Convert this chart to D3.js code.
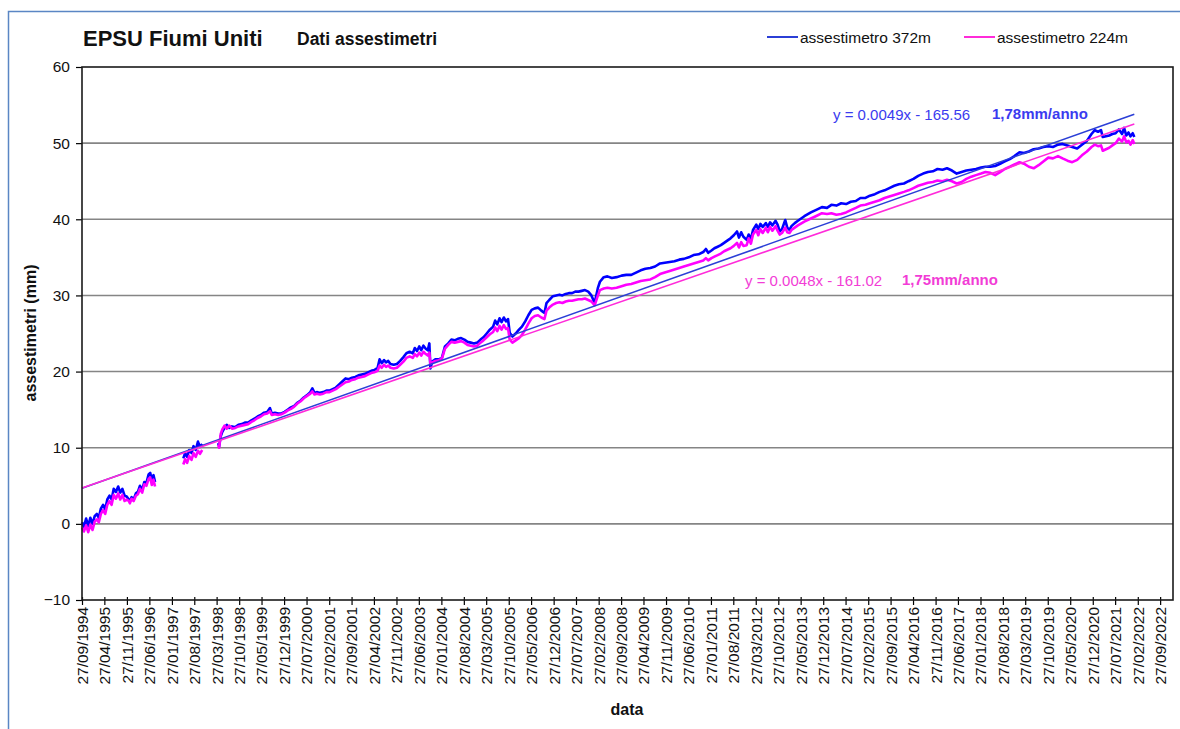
<!DOCTYPE html>
<html>
<head>
<meta charset="utf-8">
<script src="https://cdn.jsdelivr.net/npm/d3@7"></script>
<style>
  body { margin: 0; background: #fff; }
  svg { display: block; font-family: Arial, "Liberation Sans", sans-serif; }
</style>
</head>
<body>
<svg id="chart" width="1180" height="729"></svg>
<script>
// Sampling dates shared by both settlement gauges (null values = no readings)
const dates = [
  "1994-09-27","1994-10-15","1994-11-05","1994-11-25","1994-12-15",
  "1995-01-05","1995-01-25","1995-02-15","1995-03-05","1995-03-25","1995-04-15","1995-05-05","1995-05-25","1995-06-15","1995-07-05","1995-07-25","1995-08-15","1995-09-05","1995-09-25","1995-10-15","1995-11-05","1995-11-25","1995-12-15","1995-12-25",
  "1996-01-10","1996-01-30","1996-02-20","1996-03-10","1996-03-30","1996-04-20","1996-05-10","1996-05-30","1996-06-20","1996-07-05","1996-07-20","1996-08-05","1996-08-20","1997-01-01",
  "1997-05-15","1997-06-01","1997-06-20","1997-07-10","1997-08-01","1997-08-20","1997-09-10","1997-10-01","1997-10-20","1997-11-10","1998-01-01",
  "1998-04-10","1998-04-20","1998-05-05","1998-05-20","1998-06-10","1998-07-01","1998-07-25","1998-08-20","1998-09-20","1998-10-20","1998-11-20","1998-12-20",
  "1999-01-20","1999-02-20","1999-03-20","1999-04-20","1999-05-20","1999-06-20","1999-07-20","1999-08-15","1999-09-01","1999-10-01","1999-11-01","1999-12-01",
  "2000-01-01","2000-02-01","2000-03-01","2000-04-01","2000-05-01","2000-06-01","2000-07-01","2000-08-01","2000-09-01","2000-09-20","2000-10-10","2000-11-01","2000-12-01",
  "2001-01-01","2001-02-01","2001-03-01","2001-04-01","2001-05-01","2001-06-01","2001-07-01","2001-08-01","2001-09-01","2001-10-01","2001-11-01","2001-12-01",
  "2002-01-01","2002-02-01","2002-03-01","2002-04-01","2002-05-01","2002-06-01","2002-06-20","2002-07-10","2002-08-01","2002-08-20","2002-09-10","2002-10-01","2002-11-01","2002-12-01",
  "2003-01-01","2003-02-01","2003-03-01","2003-04-01","2003-05-01","2003-05-20","2003-06-10","2003-07-01","2003-07-20","2003-08-10","2003-09-01","2003-09-20","2003-10-05","2003-10-15","2003-11-01","2003-12-01",
  "2004-01-01","2004-02-01","2004-03-01","2004-04-01","2004-05-01","2004-06-01","2004-07-01","2004-08-01","2004-09-01","2004-10-01","2004-11-01","2004-12-01",
  "2005-01-01","2005-02-01","2005-03-01","2005-04-01","2005-05-01","2005-06-01","2005-06-20","2005-07-10","2005-08-01","2005-08-20","2005-09-10","2005-10-01","2005-10-20","2005-11-05","2005-12-01",
  "2006-01-01","2006-02-01","2006-03-01","2006-04-01","2006-05-01","2006-06-01","2006-07-01","2006-08-01","2006-09-01","2006-10-01","2006-10-20","2006-11-15","2006-12-20",
  "2007-01-20","2007-02-20","2007-03-20","2007-04-20","2007-05-20","2007-06-20","2007-07-20","2007-08-20","2007-09-20","2007-10-20","2007-11-20","2007-12-20",
  "2008-01-20","2008-02-20","2008-03-10","2008-04-15","2008-05-20","2008-07-01","2008-08-15","2008-10-01","2008-11-15",
  "2009-01-01","2009-02-15","2009-04-01","2009-05-15","2009-07-01","2009-08-15","2009-10-01","2009-11-15",
  "2010-01-01","2010-02-15","2010-04-01","2010-05-15","2010-07-01","2010-08-15","2010-10-01","2010-11-15","2010-12-10",
  "2011-01-01","2011-02-01","2011-03-01","2011-04-01","2011-05-01","2011-06-01","2011-07-01","2011-08-01","2011-09-01","2011-10-01","2011-10-20","2011-11-10","2011-12-01",
  "2012-01-01","2012-01-20","2012-02-10","2012-03-01","2012-04-01","2012-04-20","2012-05-10","2012-06-01","2012-07-01","2012-07-20","2012-08-10","2012-09-01","2012-10-01","2012-10-20","2012-11-10","2012-12-01",
  "2013-01-01","2013-01-20","2013-02-10","2013-03-01","2013-04-01","2013-05-01","2013-07-01","2013-09-01","2013-11-01","2013-12-15",
  "2014-02-01","2014-03-15","2014-05-01","2014-06-15","2014-08-01","2014-09-15","2014-11-01","2014-12-15",
  "2015-02-01","2015-03-15","2015-05-01","2015-06-15","2015-08-01","2015-09-15","2015-11-01","2015-12-15",
  "2016-02-01","2016-03-15","2016-05-01","2016-06-15","2016-08-01","2016-09-15","2016-11-01","2016-12-15",
  "2017-02-01","2017-03-15","2017-05-01","2017-06-15","2017-08-01","2017-09-15","2017-11-01","2017-12-15",
  "2018-02-01","2018-03-15","2018-05-01","2018-06-15","2018-08-01","2018-09-15","2018-11-01","2018-12-15",
  "2019-02-01","2019-03-15","2019-05-01","2019-06-15","2019-08-01","2019-09-15","2019-11-01","2019-12-15",
  "2020-02-01","2020-03-15","2020-05-01","2020-06-15","2020-08-01","2020-09-15","2020-11-01","2020-12-15",
  "2021-01-15","2021-02-15","2021-03-15","2021-04-01","2021-05-01","2021-06-01","2021-07-01","2021-08-01","2021-09-01","2021-10-01","2021-10-20","2021-11-10","2021-12-01","2021-12-20","2022-01-10","2022-01-25"
];

// Settlement (mm) – gauge anchored at 372 m
const assestimetro372 = [
  0.2,-0.4,0.7,-0.3,0.8,
  0.0,1.0,1.3,0.8,2.0,2.5,1.9,3.2,3.7,3.2,4.6,4.2,4.9,4.1,4.6,3.7,3.6,3.2,3.0,
  3.5,3.2,4.0,4.2,5.0,4.5,5.5,5.4,6.5,6.7,5.8,6.4,5.5,null,
  8.6,9.3,8.8,9.7,9.3,10.2,9.7,10.8,10.1,10.5,null,
  10.6,10.2,11.5,12.1,12.6,13.0,12.6,12.8,12.7,13.0,13.1,13.3,
  13.3,13.6,13.8,14.1,14.3,14.6,14.7,15.2,14.5,14.6,14.5,14.5,
  14.7,15.0,15.3,15.5,15.9,16.2,16.6,16.9,17.3,17.8,17.2,17.3,17.2,
  17.3,17.5,17.5,17.7,17.9,18.3,18.7,19.1,19.0,19.2,19.3,19.5,
  19.6,19.7,19.9,20.1,20.2,20.5,21.6,21.1,21.5,21.2,21.4,21.0,20.9,21.0,
  21.4,21.9,22.4,22.6,22.4,23.1,22.7,23.3,22.8,23.4,23.0,22.8,23.7,20.4,21.3,21.6,
  21.6,21.8,23.3,23.7,24.2,24.1,24.3,24.4,24.2,23.9,23.8,23.7,
  23.8,24.2,24.5,25.0,25.5,25.9,26.7,26.2,27.0,26.5,27.1,26.6,26.9,25.1,24.6,
  25.0,25.5,25.9,26.6,27.4,28.1,28.3,28.4,28.0,27.7,29.0,29.4,29.9,
  30.0,30.1,30.0,30.2,30.3,30.3,30.5,30.5,30.6,30.7,30.5,30.0,
  29.0,31.0,31.8,32.4,32.5,32.3,32.4,32.6,32.7,
  32.7,33.0,33.3,33.5,33.6,33.8,34.2,34.3,
  34.4,34.5,34.7,34.8,35.0,35.3,35.4,35.7,36.1,
  35.6,35.9,36.2,36.4,36.6,36.9,37.2,37.5,37.9,38.4,37.6,38.3,37.7,
  37.3,38.0,37.4,38.6,39.3,38.7,39.4,39.0,39.5,39.0,39.6,39.2,39.8,39.3,38.4,38.7,
  39.9,38.9,38.6,39.1,39.5,39.8,40.4,40.9,41.3,41.6,
  41.5,41.9,41.8,42.1,42.0,42.3,42.4,42.8,
  42.8,43.1,43.3,43.6,43.8,44.1,44.4,44.6,
  44.7,45.0,45.3,45.7,46.0,46.2,46.3,46.6,
  46.5,46.7,46.4,46.0,46.2,46.4,46.5,46.6,
  46.8,46.9,46.9,47.0,47.3,47.6,47.9,48.3,
  48.8,48.7,48.9,49.2,49.3,49.5,49.6,49.5,
  49.8,49.9,49.7,49.5,49.3,49.8,50.3,51.2,
  51.7,51.5,51.7,50.8,50.9,51.0,51.2,51.3,51.8,51.2,52.0,51.0,51.4,50.9,51.3,50.8
];

// Settlement (mm) – gauge anchored at 224 m
const assestimetro224 = [
  -0.5,-1.0,-0.2,-1.1,-0.1,
  -0.8,0.3,0.6,0.2,1.3,1.8,1.3,2.5,3.0,2.5,3.8,3.3,4.0,3.2,3.8,3.0,3.2,3.0,2.7,
  3.3,3.0,3.7,3.9,4.6,4.1,5.2,5.0,5.9,6.1,5.1,5.8,4.9,null,
  7.8,8.5,8.0,8.9,8.4,9.3,8.8,9.6,9.2,9.7,null,
  10.4,10.0,11.8,12.4,12.9,12.5,12.9,12.5,12.6,12.8,12.9,13.0,
  13.1,13.4,13.6,13.9,14.1,14.4,14.5,14.8,14.3,14.4,14.3,14.4,
  14.6,14.9,15.1,15.4,15.8,16.1,16.5,16.8,17.1,17.4,17.0,17.1,17.0,
  17.1,17.3,17.3,17.5,17.7,18.0,18.3,18.6,18.7,18.9,19.0,19.2,
  19.3,19.4,19.6,19.8,19.9,20.1,20.8,20.5,20.9,20.6,20.8,20.5,20.4,20.5,
  20.9,21.3,21.8,22.0,21.8,22.3,22.0,22.5,22.1,22.6,22.3,22.1,22.5,21.0,21.2,21.4,
  21.5,21.7,23.0,23.5,23.9,23.8,23.9,24.0,23.8,23.5,23.4,23.3,
  23.4,23.8,24.1,24.5,24.9,25.2,25.8,25.3,26.0,25.5,26.1,25.6,25.7,24.2,23.8,
  24.1,24.4,24.8,25.5,26.3,27.0,27.3,27.4,27.1,26.9,28.0,28.4,28.8,
  29.0,29.1,29.0,29.2,29.3,29.3,29.4,29.5,29.5,29.6,29.4,29.2,
  28.7,30.0,30.7,30.9,31.0,30.9,31.0,31.2,31.4,
  31.5,31.7,31.9,32.0,32.1,32.4,32.8,33.0,
  33.2,33.4,33.6,33.8,34.0,34.2,34.4,34.6,34.9,
  34.6,34.9,35.1,35.3,35.5,35.8,36.0,36.2,36.5,36.9,36.3,37.0,36.5,
  36.6,37.5,36.8,38.0,38.6,37.9,38.7,38.2,38.9,38.3,39.0,38.5,39.1,38.5,38.0,38.2,
  38.9,38.3,38.2,38.6,38.9,39.2,39.7,40.1,40.5,40.8,
  40.7,40.8,40.6,40.7,40.9,41.2,41.5,41.8,
  41.9,42.1,42.3,42.5,42.8,43.0,43.2,43.4,
  43.6,43.8,44.1,44.4,44.6,44.8,44.9,45.1,
  45.0,45.2,45.0,44.7,44.9,45.3,45.6,45.8,
  46.0,46.2,46.1,45.8,46.2,46.6,46.9,47.2,
  47.5,47.3,46.9,46.7,47.1,47.6,48.1,48.0,
  48.3,48.0,47.7,47.5,47.8,48.4,48.9,49.5,
  49.8,49.6,49.7,49.0,49.2,49.4,49.7,50.0,50.6,50.2,50.9,50.1,50.3,49.8,50.4,49.9
];

// Linear trends fitted on Excel date serials: y = slope * serial + intercept
const trendSlopes = [0.00492, 0.004789];
const trendIntercepts = [-165.56, -161.02];
const trendRates = ["1,78mm/anno", "1,75mm/anno"];

const seriesNames = ["assestimetro 372m", "assestimetro 224m"];
const seriesColors = ["#0000ff", "#ff00ff"];
const trendColors = ["#2b3fd6", "#ff2bd9"];
const labelColors = ["#3b3bef", "#f23cd6"];

const xTickLabels = [
  "27/09/1994","27/04/1995","27/11/1995","27/06/1996","27/01/1997","27/08/1997","27/03/1998",
  "27/10/1998","27/05/1999","27/12/1999","27/07/2000","27/02/2001","27/09/2001","27/04/2002",
  "27/11/2002","27/06/2003","27/01/2004","27/08/2004","27/03/2005","27/10/2005","27/05/2006",
  "27/12/2006","27/07/2007","27/02/2008","27/09/2008","27/04/2009","27/11/2009","27/06/2010",
  "27/01/2011","27/08/2011","27/03/2012","27/10/2012","27/05/2013","27/12/2013","27/07/2014",
  "27/02/2015","27/09/2015","27/04/2016","27/11/2016","27/06/2017","27/01/2018","27/08/2018",
  "27/03/2019","27/10/2019","27/05/2020","27/12/2020","27/07/2021","27/02/2022","27/09/2022"
];
const yTicks = [-10, 0, 10, 20, 30, 40, 50, 60];

const parseISO = d3.timeParse("%Y-%m-%d");
const parseTick = d3.timeParse("%d/%m/%Y");
const fmtTick = d3.timeFormat("%d/%m/%Y");
const excelEpoch = new Date(1899, 11, 30);
const toSerial = d => Math.round((d - excelEpoch) / 864e5);

const svg = d3.select("#chart");
const plot = { left: 82, right: 1173, top: 67, bottom: 600 };

const x = d3.scaleTime()
  .domain([parseISO("1994-09-27"), parseISO("2023-01-27")])
  .range([plot.left, plot.right]);
const y = d3.scaleLinear().domain([-10, 60]).range([plot.bottom, plot.top]);

// outer chart-area frame
svg.append("rect")
  .attr("x", 8.5).attr("y", 11.5).attr("width", 1300).attr("height", 900)
  .attr("fill", "none").attr("stroke", "#5a86c4").attr("stroke-width", 1.5);

// horizontal gridlines
svg.append("g").selectAll("line")
  .data(yTicks.filter(v => v > -10 && v < 60))
  .join("line")
  .attr("x1", plot.left).attr("x2", plot.right)
  .attr("y1", d => y(d)).attr("y2", d => y(d))
  .attr("stroke", "#858585").attr("stroke-width", 1.6);

// Y axis
const yAxis = svg.append("g")
  .attr("transform", `translate(${plot.left},0)`)
  .call(d3.axisLeft(y).tickValues(yTicks).tickSize(6).tickSizeOuter(0).tickPadding(6));
yAxis.select(".domain").remove();
yAxis.selectAll(".tick line").attr("stroke", "#000").attr("stroke-width", 1.2);
yAxis.selectAll(".tick text")
  .attr("font-size", 15.5).attr("fill", "#111")
  .attr("font-family", "Arial, 'Liberation Sans', sans-serif");

// X axis
const xAxis = svg.append("g")
  .attr("transform", `translate(0,${plot.bottom})`)
  .call(d3.axisBottom(x).tickValues(xTickLabels.map(parseTick)).tickFormat(fmtTick)
    .tickSize(5).tickSizeOuter(0));
xAxis.select(".domain").remove();
xAxis.selectAll(".tick line").attr("stroke", "#000").attr("stroke-width", 1.2).attr("y1", -3);
xAxis.selectAll(".tick text")
  .attr("font-size", 15.5).attr("fill", "#111")
  .attr("font-family", "Arial, 'Liberation Sans', sans-serif")
  .attr("text-anchor", "end")
  .attr("transform", "rotate(-90)")
  .attr("x", -7).attr("y", 0).attr("dy", "0.35em");

// data series
const rows = dates.map((d, i) => ({ date: parseISO(d), v372: assestimetro372[i], v224: assestimetro224[i] }));
const keys = ["v372", "v224"];
keys.forEach((k, i) => {
  const line = d3.line()
    .defined(r => r[k] != null)
    .x(r => x(r.date)).y(r => y(r[k]));
  svg.append("path")
    .datum(rows)
    .attr("d", line)
    .attr("fill", "none")
    .attr("stroke", seriesColors[i])
    .attr("stroke-width", 2.6)
    .attr("stroke-linejoin", "round");
});

// trend lines over the observed period
const firstDate = rows[0].date, lastDate = rows[rows.length - 1].date;
keys.forEach((k, i) => {
  const pts = [firstDate, lastDate].map(d => ({ d, v: trendSlopes[i] * toSerial(d) + trendIntercepts[i] }));
  svg.append("line")
    .attr("x1", x(pts[0].d)).attr("y1", y(pts[0].v))
    .attr("x2", x(pts[1].d)).attr("y2", y(pts[1].v))
    .attr("stroke", trendColors[i]).attr("stroke-width", 1.6);
});

// plot frame
svg.append("rect")
  .attr("x", plot.left).attr("y", plot.top)
  .attr("width", plot.right - plot.left).attr("height", plot.bottom - plot.top)
  .attr("fill", "none").attr("stroke", "#1a1a1a").attr("stroke-width", 1.6);

// trend equations
const fmtSlope = d3.format(".4f");
const fmtInt = d3.format(".2f");
const eqPos = [{ x: 833, y: 120, rx: 992 }, { x: 745, y: 286, rx: 902 }];
keys.forEach((k, i) => {
  svg.append("text")
    .attr("x", eqPos[i].x).attr("y", eqPos[i].y)
    .attr("font-size", 15).attr("fill", labelColors[i])
    .attr("xml:space", "preserve")
    .text(`y = ${fmtSlope(trendSlopes[i])}x - ${fmtInt(-trendIntercepts[i])}`);
  svg.append("text")
    .attr("x", eqPos[i].rx).attr("y", eqPos[i].y - 1)
    .attr("font-size", 15).attr("font-weight", "bold").attr("fill", labelColors[i])
    .text(trendRates[i]);
});

// titles
svg.append("text").attr("x", 83).attr("y", 46)
  .attr("font-size", 22).attr("font-weight", "bold").attr("fill", "#111")
  .text("EPSU Fiumi Uniti");
svg.append("text").attr("x", 297).attr("y", 45)
  .attr("font-size", 17.5).attr("font-weight", "bold").attr("fill", "#111")
  .text("Dati assestimetri");

// legend
const legendX = [767, 964];
seriesNames.forEach((name, i) => {
  svg.append("line")
    .attr("x1", legendX[i]).attr("x2", legendX[i] + 31)
    .attr("y1", 37).attr("y2", 37)
    .attr("stroke", trendColors[i]).attr("stroke-width", 2);
  svg.append("text")
    .attr("x", legendX[i] + 33).attr("y", 42.5)
    .attr("font-size", 15.5).attr("fill", "#111")
    .text(name);
});

// axis titles
svg.append("text")
  .attr("transform", "translate(36,333) rotate(-90)")
  .attr("text-anchor", "middle")
  .attr("font-size", 16).attr("font-weight", "bold").attr("fill", "#111")
  .text("assestimetri (mm)");
svg.append("text")
  .attr("x", 627).attr("y", 715)
  .attr("text-anchor", "middle")
  .attr("font-size", 16).attr("font-weight", "bold").attr("fill", "#111")
  .text("data");
</script>
</body>
</html>
